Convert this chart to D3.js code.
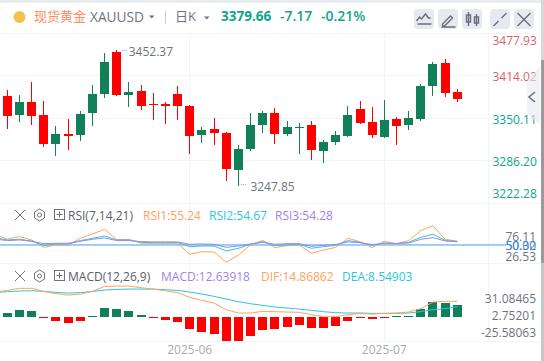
<!DOCTYPE html>
<html>
<head>
<meta charset="utf-8">
<script src="https://cdnjs.cloudflare.com/ajax/libs/d3/7.8.5/d3.min.js"></script>
<style>
html, body { margin: 0; padding: 0; background: #fff; overflow: hidden; }
text { font-family: "Open Sans", "Noto Sans CJK SC", sans-serif; }
</style>
</head>
<body>
<div id="chart"></div>
<script>
// daily candles, open/high/low/close. red = close below open here
const opens = [3383.8,3355.5,3374.7,3355.1,3311.7,3326.4,3325.3,3358.6,3387.3,3450.3,3385.3,3391.4,3371.7,3371.7,3386.8,3368.7,3325.3,3333.9,3327.9,3272.5,3304.2,3340.4,3358.1,3326.8,3335.5,3340.0,3301.1,3314.7,3323.8,3364.2,3344.5,3322.3,3349.0,3340.4,3349.5,3398.9,3433.7,3389.8];
const highs = [3392.9,3385.3,3405.0,3376.2,3338.5,3349.0,3361.1,3400.4,3448.8,3452.37,3405.0,3400.4,3388.3,3374.7,3398.9,3370.2,3337.0,3350.6,3329.4,3309.7,3358.1,3361.1,3365.7,3346.0,3343.0,3346.0,3317.3,3330.9,3368.7,3376.2,3367.2,3377.8,3352.1,3361.1,3401.9,3435.2,3439.7,3394.4];
const lows = [3333.9,3345.0,3340.4,3307.2,3293.6,3302.7,3316.3,3338.9,3381.2,3383.8,3367.6,3363.1,3348.0,3341.9,3348.0,3296.6,3313.2,3310.2,3255.8,3247.85,3301.1,3328.4,3311.7,3323.8,3296.6,3287.5,3283.0,3310.2,3322.3,3341.9,3320.8,3320.8,3310.2,3332.9,3346.5,3383.8,3382.3,3374.7];
const closes = [3354.0,3374.7,3354.0,3311.7,3326.4,3323.8,3356.6,3386.8,3435.2,3385.3,3389.8,3369.1,3370.2,3369.1,3369.1,3323.8,3332.4,3328.4,3274.0,3303.7,3340.0,3358.1,3326.8,3337.0,3337.0,3302.7,3314.3,3324.9,3355.1,3343.4,3325.3,3347.5,3338.9,3350.6,3398.9,3432.2,3388.8,3379.66];

// indicator series start one bar left of the first candle, the line runs in from the edge
const rsi1 = [63.6,58.1,61.3,56.8,46.8,50,50,59,64.9,71.2,57.2,57.7,52.3,52.3,52.3,52.3,37.4,41,40.5,26.53,36.4,50,56.3,46.4,49.1,50,38.7,43.2,46.8,59,54.5,46.4,55,51.8,55.9,69.4,76.11,57.7,55.24];
const rsi2 = [59.9,56.8,57.7,55.4,49.5,51.4,51.4,55.9,59,62.2,56.8,56.8,53.6,53.2,53.2,53.2,47.7,48.6,48.6,41.9,45.5,50.9,54.5,49.1,50,50.9,45.5,47.7,49.5,55.9,53.6,49.5,52.7,51.8,53.6,60.4,64.5,56.3,54.67];
const rsi3 = [58.1,55.9,56.8,55,51.8,52.3,52.3,55,57.7,59.5,55.9,55.9,54.5,54.1,54.1,54.1,50.9,51.4,50.9,46.8,48.6,51.4,53.6,50.9,51.8,51.8,48.2,49.5,50.5,54.1,53.2,50.5,52.3,51.8,52.7,57.7,59.9,55.4,54.28];
const dif = [26.8,28.6,30.8,30.8,27.5,25,23.5,24.6,27.5,32.9,33.3,33.3,31.5,30,28.2,26.1,21,17.7,14.8,7.6,4,4,5.8,5.4,5.1,4.7,2.2,0,0,2.2,3.3,2.9,3.6,4,5.1,8.7,15.9,16.7,16.7];
const dea = [26.4,27.2,27.9,28.2,27.5,26.4,25.7,26.1,27.5,29,29.7,30,30,30,29.3,28.6,26.8,24.6,22.1,19.2,16.3,14.1,12.3,10.5,9.4,8.3,6.9,5.4,4.3,4,4,3.6,3.6,3.6,4,5.4,7.6,8.7,10.9];
const macd = [4.3,7.6,6.5,-1.1,-4.3,-6.5,-4.3,1.1,9.8,8.7,6.5,2.2,-1.1,-3.3,-5.4,-13,-16.3,-18.5,-26,-26,-20.6,-14.1,-13,-10.9,-8.7,-11.9,-11.9,-9.8,-4.3,-1.4,-3,-1,0.4,0.7,8.7,15.9,15.2,12.64];

const priceTicks = [3477.93,3414.02,3350.11,3286.20,3222.28];
const rsiLabels = ["76.11","50.32","26.53"];
const macdLabels = ["31.08465","2.75201","-25.58063"];
const monthLabels = [{ index: 15, text: "2025-06" }, { index: 31, text: "2025-07" }];

const width = 544, height = 361;
const axisX = 488.5;
const UP = "#118058", DOWN = "#ff0000";
const GRID = "#f3f4f7";
const ORANGE = "#ffa25c", CYAN = "#2cc5e0", PURPLE = "#a284e6";
const GREY = "#6f7280";

const svg = d3.select("#chart").append("svg")
    .attr("width", width)
    .attr("height", height)
    .style("display", "block");

svg.append("defs").append("clipPath").attr("id", "plot")
    .append("rect").attr("x", 0).attr("y", 0).attr("width", axisX).attr("height", height);

const xScale = d3.scaleLinear().domain([0, 37]).range([7.3, 457.3]);
const yPrice = d3.scaleLinear().domain([3222.28, 3477.93]).range([203.3, 33.3]);
const yRsi = d3.scaleLinear().domain([26.53, 76.11]).range([262.3, 225.7]);
const yMacd = d3.scaleLinear().domain([-25.58, 31.08]).range([340.2, 288.1]);

// top strip and scrollbar at the right
svg.append("rect").attr("width", width).attr("height", 3).attr("fill", "#e9ecf1");
svg.append("rect").attr("x", 541).attr("y", 0).attr("width", 3).attr("height", 60).attr("fill", "#d8d8d8");
svg.append("rect").attr("x", 541).attr("y", 60).attr("width", 3).attr("height", 203).attr("fill", "#9a9a9a");
svg.append("rect").attr("x", 541).attr("y", 263).attr("width", 3).attr("height", 98).attr("fill", "#c8c8c8");

// grid
const grid = svg.append("g").attr("stroke", GRID).attr("stroke-width", 1).attr("shape-rendering", "crispEdges");
priceTicks.forEach(d => {
    grid.append("line").attr("x1", 0).attr("x2", 540).attr("y1", yPrice(d)).attr("y2", yPrice(d));
});
[263.5, 341.5].forEach(y => {
    grid.append("line").attr("x1", 0).attr("x2", 540).attr("y1", y).attr("y2", y);
});
monthLabels.forEach(d => {
    grid.append("line").attr("x1", xScale(d.index)).attr("x2", xScale(d.index)).attr("y1", 33).attr("y2", 341);
});
grid.append("line").attr("x1", axisX).attr("x2", axisX).attr("y1", 33).attr("y2", 341);

// candles
const candleWidth = 9;
const candles = svg.append("g").attr("shape-rendering", "crispEdges").selectAll("g")
    .data(d3.range(opens.length))
    .enter().append("g");

candles.append("line")
    .attr("x1", i => xScale(i)).attr("x2", i => xScale(i))
    .attr("y1", i => yPrice(highs[i])).attr("y2", i => yPrice(lows[i]))
    .attr("stroke", i => closes[i] < opens[i] ? DOWN : UP)
    .attr("stroke-width", 1);

candles.append("rect")
    .attr("x", i => xScale(i) - candleWidth / 2)
    .attr("width", candleWidth)
    .attr("y", i => yPrice(Math.max(opens[i], closes[i])))
    .attr("height", i => Math.max(1, Math.abs(yPrice(opens[i]) - yPrice(closes[i]))))
    .attr("fill", i => closes[i] < opens[i] ? DOWN : UP);

// high and low markers
const marks = svg.append("g").attr("fill", GREY).style("font-size", "12px");
marks.append("text").attr("x", xScale(9) + 4).attr("y", yPrice(3452.37) + 2.5).style("font-size", "8px").text("···");
marks.append("text").attr("x", xScale(9) + 12).attr("y", yPrice(3452.37) + 6).text("3452.37");
marks.append("text").attr("x", xScale(19) + 2).attr("y", yPrice(3247.85) + 1).style("font-size", "8px").text("···");
marks.append("text").attr("x", xScale(19) + 12).attr("y", yPrice(3247.85) + 5).text("3247.85");

// price axis labels
const priceColor = d => d >= 3414 ? "#db5f6c" : "#12a58a";
const labelY = [45, 81, 124, 166, 198];
svg.append("g").selectAll("text")
    .data(priceTicks)
    .enter().append("text")
    .attr("x", 492.5)
    .attr("y", (d, i) => labelY[i])
    .attr("fill", priceColor)
    .style("font-size", "12px")
    .text(d => d.toFixed(2));

// rsi pane
const lineRsi = d3.line().x((d, i) => xScale(i - 1)).y(d => yRsi(d));
const rsiPlot = svg.append("g").attr("clip-path", "url(#plot)");
rsiPlot.append("line")
    .attr("x1", 0).attr("x2", axisX + 20)
    .attr("y1", yRsi(50)).attr("y2", yRsi(50))
    .attr("stroke", "#3f9fe8").attr("stroke-width", 1);
[[rsi1, ORANGE], [rsi2, CYAN], [rsi3, PURPLE]].forEach(([series, color]) => {
    rsiPlot.append("path").datum(series)
        .attr("fill", "none").attr("stroke", color).attr("stroke-width", 1)
        .attr("d", lineRsi);
});
svg.append("line").attr("x1", axisX).attr("x2", 506)
    .attr("y1", yRsi(50)).attr("y2", yRsi(50))
    .attr("stroke", "#3f9fe8").attr("stroke-width", 1);

const rsiAxis = svg.append("g").attr("text-anchor", "end").style("font-size", "12px").attr("fill", GREY);
rsiAxis.append("text").attr("x", 536).attr("y", 241).text(rsiLabels[0]);
rsiAxis.append("text").attr("x", 536).attr("y", 250).text(rsiLabels[1]);
rsiAxis.append("text").attr("x", 536).attr("y", 261).text(rsiLabels[2]);
rsiAxis.append("text").attr("x", 536).attr("y", 250).attr("fill", "#2f8fe6").text("50.00");

// macd pane
svg.append("g").attr("shape-rendering", "crispEdges").selectAll("rect")
    .data(macd)
    .enter().append("rect")
    .attr("x", (d, i) => xScale(i) - candleWidth / 2)
    .attr("width", candleWidth)
    .attr("y", d => Math.min(yMacd(d), yMacd(0)))
    .attr("height", d => Math.max(1, Math.abs(yMacd(d) - yMacd(0))))
    .attr("fill", d => d < 0 ? DOWN : UP);

const lineMacd = d3.line().x((d, i) => xScale(i - 1)).y(d => yMacd(d));
const macdPlot = svg.append("g").attr("clip-path", "url(#plot)");
[[dea, CYAN], [dif, ORANGE]].forEach(([series, color]) => {
    macdPlot.append("path").datum(series)
        .attr("fill", "none").attr("stroke", color).attr("stroke-width", 1)
        .attr("d", lineMacd);
});

svg.append("g").attr("text-anchor", "end").style("font-size", "12px").attr("fill", GREY)
    .selectAll("text").data(macdLabels)
    .enter().append("text")
    .attr("x", 536)
    .attr("y", (d, i) => [303, 320, 337][i])
    .text(d => d);

// x axis
svg.append("g").attr("text-anchor", "middle").attr("fill", "#a7a9b5").style("font-size", "12px")
    .selectAll("text").data(monthLabels)
    .enter().append("text")
    .attr("x", d => xScale(d.index))
    .attr("y", 354)
    .text(d => d.text);

// header
const header = svg.append("g");
header.append("circle").attr("cx", 19.5).attr("cy", 17).attr("r", 6).attr("fill", "#f2c14e");
header.append("text").attr("x", 34).attr("y", 21).attr("fill", "#ff8a5c").style("font-size", "13px").text("现货黄金");
header.append("text").attr("x", 90).attr("y", 22).attr("fill", "#70737f").style("font-size", "13.7px").text("XAUUSD");
header.append("path").attr("d", "M149 15.5h5.5l-2.75 3z").attr("fill", "#70737f");
header.append("line").attr("x1", 165.5).attr("x2", 165.5).attr("y1", 11).attr("y2", 24).attr("stroke", "#c9ccd4");
header.append("text").attr("x", 175).attr("y", 21).attr("fill", "#70737f").style("font-size", "13px").text("日K");
header.append("path").attr("d", "M204 16.5h5.5l-2.75 3z").attr("fill", "#70737f");
const quote = header.append("g").attr("fill", "#12a58a").style("font-weight", "700");
quote.append("text").attr("x", 221).attr("y", 21).style("font-size", "13.5px").text("3379.66");
quote.append("text").attr("x", 280).attr("y", 20.5).style("font-size", "14px").style("font-weight", "600").text("-7.17");
quote.append("text").attr("x", 321).attr("y", 20.5).style("font-size", "14px").style("font-weight", "600").text("-0.21%");

// toolbar buttons
const buttonX = [414, 438, 462, 490, 514];
const icons = [
    "M4 13l3-4 2 2 4-5 3 4h2M5 16h14",
    "M6 16l8-8 2 2-8 8h-2zM5 19h14",
    "M8 4v14M16 6v12M6 7h4v7h-4zM14 9h4v6h-4z",
    "M5 18l5-5M18 5l-5 5",
    "M5 5l13 13M18 5l-13 13"
];
const buttons = svg.append("g");
buttonX.forEach((x, i) => {
    buttons.append("rect").attr("x", x).attr("y", 9).attr("width", 20).attr("height", 20).attr("rx", 4).attr("fill", "#e7e9f0");
    buttons.append("path").attr("transform", "translate(" + (x - 1.5) + ",8)").attr("d", icons[i])
        .attr("fill", "none").attr("stroke", "#6b6e7a").attr("stroke-width", 1.4);
});

// indicator titles
function paneTitle(y, title, items) {
    const g = svg.append("g");
    g.append("path").attr("d", `M15 ${y - 5}l10 10M25 ${y - 5}l-10 10`).attr("stroke", "#6f7280").attr("fill", "none");
    g.append("path").attr("d", `M39.5 ${y - 6}l5 3v6l-5 3l-5-3v-6z`).attr("stroke", "#6f7280").attr("fill", "none");
    g.append("circle").attr("cx", 39.5).attr("cy", y).attr("r", 2).attr("stroke", "#6f7280").attr("fill", "none");
    g.append("rect").attr("x", 54.5).attr("y", y - 5.5).attr("width", 10).attr("height", 10).attr("stroke", "#6f7280").attr("fill", "none");
    g.append("path").attr("d", `M59.5 ${y - 3.5}v6M56.5 ${y - 0.5}h6`).attr("stroke", "#6f7280").attr("fill", "none");
    g.append("text").attr("x", 68).attr("y", y + 4.5).attr("fill", "#5a5d68").style("font-size", "12px").text(title);
    items.forEach(d => {
        g.append("text").attr("x", d.x).attr("y", y + 4.5).attr("fill", d.color).style("font-size", "12px").text(d.text);
    });
}
paneTitle(215, "RSI(7,14,21)", [
    { x: 143, text: "RSI1:55.24", color: ORANGE },
    { x: 209, text: "RSI2:54.67", color: CYAN },
    { x: 275, text: "RSI3:54.28", color: PURPLE }
]);
paneTitle(276, "MACD(12,26,9)", [
    { x: 161, text: "MACD:12.63918", color: PURPLE },
    { x: 261, text: "DIF:14.86862", color: ORANGE },
    { x: 342, text: "DEA:8.54903", color: CYAN }
]);

// collapse tab on the right edge, see-through so the price labels show
svg.append("path").attr("d", "M527 84Q527 79 531 76L540 66V125L531 117Q527 114 527 110z").attr("fill", "#e8e9f0").attr("fill-opacity", 0.6);
svg.append("path").attr("d", "M535 92l-6 5l6 5").attr("fill", "none").attr("stroke", "#70737f").attr("stroke-width", 1.6);
</script>
</body>
</html>
